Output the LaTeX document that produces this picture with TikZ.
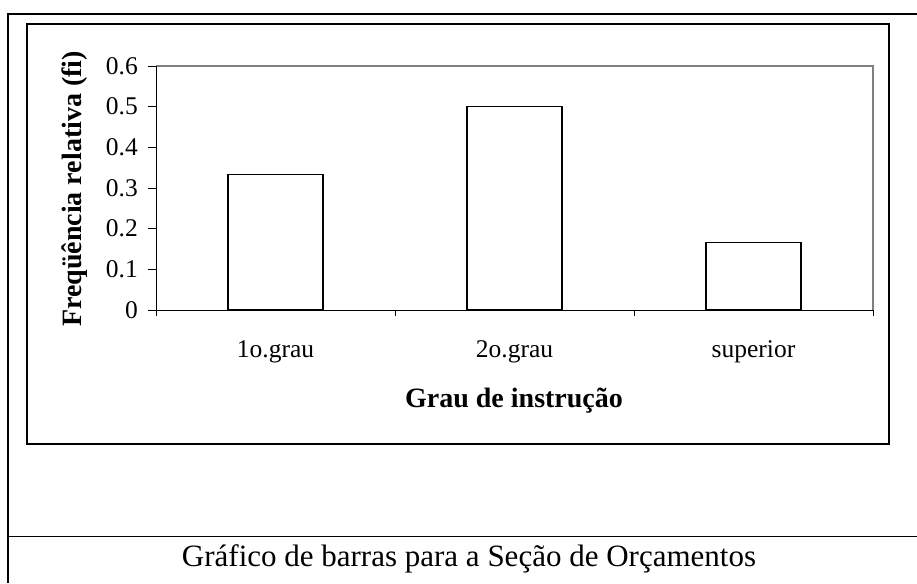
\documentclass[tikz,border=0pt]{standalone}
\usepackage{fontspec}
\setmainfont{Liberation Serif}
\begin{document}
\begin{tikzpicture}[x=1pt,y=-1pt,
        ticklab/.style={font=\fontsize{25.5}{30}\selectfont},
        axtitle/.style={font=\fontsize{28}{34}\selectfont\bfseries},
        bar/.style={draw,line width=1.4pt,fill=white}]
        \useasboundingbox(0,0)rectangle(917,583);
        \fill[white](0,0)rectangle(917,583);
        % outer cell and caption
        \draw[line width=2pt](8,583)--(8,14)--(917,14);
        \draw[line width=1pt](8,536)--(917,536);
        \node[anchor=base,font=\fontsize{31}{36}\selectfont](caption)at(469,566){Gráfico de barras para a Seção de Orçamentos};
        % chart frame
        \draw[line width=1.6pt](27,24)rectangle(889,444);
        \draw[gray,line width=1.2pt](156,66)--(873,66)--(873,310);
        % axes
        \draw[line width=0.9pt](156,66)--(156,316);
        \draw[line width=0.9pt](156,310)--(873,310);
        \foreach \k/\lab in {0/0,1/0.1,2/0.2,3/0.3,4/0.4,5/0.5,6/0.6}
            {
                \draw[line width=0.9pt](148,{310-\k*40.67})--(156,{310-\k*40.67});
                \node[ticklab,anchor=east,inner sep=0pt](ylab\k)at(138,{310-\k*40.67}){\lab};
            }
        \foreach \x in {395,634,873}
            \draw[line width=0.9pt](\x,310)--(\x,316);
        % bars
        \foreach \c/\f/\cat in {1/0.3333/1o.grau,2/0.5/2o.grau,3/0.1667/superior}
            {
                \pgfmathsetmacro{\cx}{156+239*(\c-0.5)}
                \draw[bar](\cx-47.5,310)rectangle(\cx+47.5,{310-\f*406.7});
                \node[ticklab,anchor=base](cat\c)at(\cx,357){\cat};
            }
        \node[axtitle,anchor=base](xtitle)at(514,407){Grau de instrução};
        \node[axtitle,anchor=base,rotate=90](ytitle)at(81,189){Freqüência relativa (fi)};
    \end{tikzpicture}
\end{document}
